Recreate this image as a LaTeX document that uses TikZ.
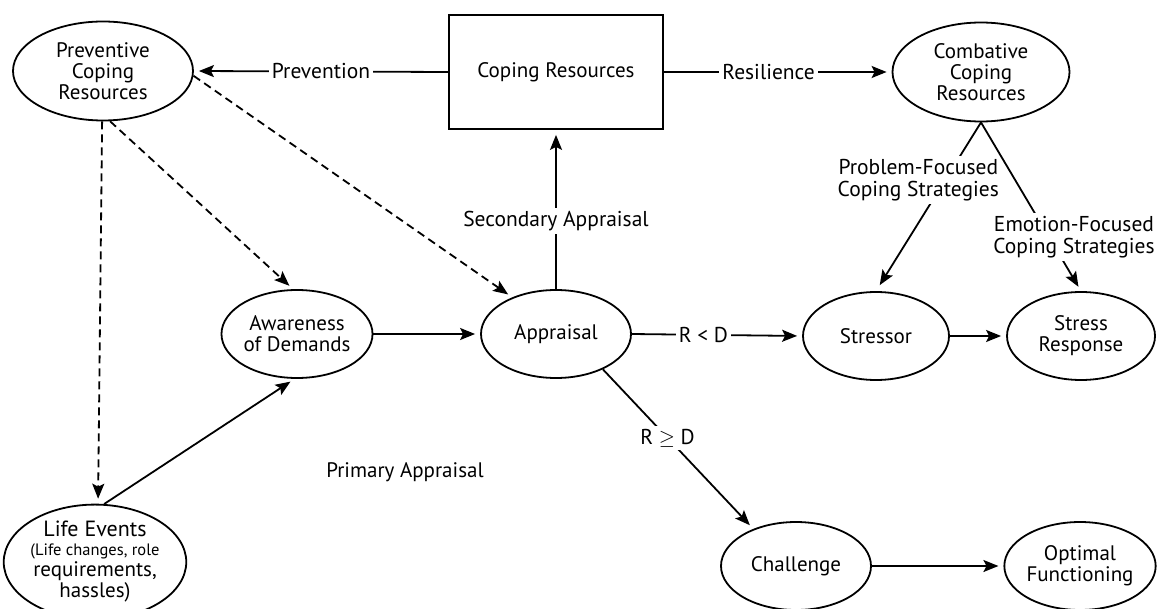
\documentclass[tikz,border=0pt]{standalone}
\usepackage{fontspec}
\setmainfont{PT Sans}
\usetikzlibrary{shapes.geometric,arrows.meta}
\begin{document}
\begin{tikzpicture}[x=1pt,y=-1pt,
  every node/.style={font=\fontsize{21}{21}\selectfont},
  ell/.style={draw, ellipse, line width=1.8pt, minimum width=150pt, minimum height=88pt, inner sep=0pt, align=center},
  bigell/.style={ell, minimum width=180pt, minimum height=99pt},
  lbl/.style={fill=white, inner sep=3pt, align=center, font=\fontsize{21.5}{22}\selectfont},
  arr/.style={line width=1.8pt, -{Stealth[length=15pt,width=12pt,inset=3pt]}, shorten >=5pt},
  dsh/.style={arr, dash pattern=on 8pt off 5pt},
]
\useasboundingbox (0,0) rectangle (1158,609);

\node[bigell] (prev) at (103,71) {Preventive\\Coping\\Resources};
\node[draw, line width=1.8pt, minimum width=214pt, minimum height=114pt, inner sep=0pt] (box) at (556,72) {Coping Resources};
\node[bigell, minimum width=177pt] (comb) at (981,72) {Combative\\Coping\\Resources};
\node[ell] (aw) at (297,334) {Awareness\\of Demands};
\node[ell] (appr) at (556,334) {Appraisal};
\node[ell, minimum width=146pt] (str) at (876,336) {Stressor};
\node[ell, minimum width=148pt] (sr) at (1081,336) {Stress\\Response};
\node[ell] (chal) at (796,566) {Challenge};
\node[ell] (opt) at (1080,566) {Optimal\\Functioning};
\node[bigell] (life) at (95,562) {\fontsize{22}{21}\selectfont Life Events\\[-2pt]\fontsize{16.5}{17}\selectfont (Life changes, role\\requirements,\\hassles)};
\node (primary) at (405,472) {Primary Appraisal};

\draw[arr] (box.west) -- node[lbl]{Prevention} (prev.east);
\draw[arr] (box.east) -- node[lbl,pos=0.46]{Resilience} (comb.west);
\draw[arr] (appr.north) -- node[lbl,pos=0.43]{Secondary Appraisal} (box.south);
\draw[arr] (aw.east) -- (appr.west);
\draw[arr] (appr.east) -- node[lbl,pos=0.42]{R < D} (str.west);
\draw[arr] (str.east) -- (sr.west);
\draw[arr] (appr.-37) -- node[lbl,pos=0.43]{R $\geq$ D} (chal.139);
\draw[arr] (chal.east) -- (opt.west);
\draw[arr, shorten >=7pt] (comb.south) -- node[lbl,pos=0.34,xshift=-27pt]{Problem-Focused\\Coping Strategies} (str.north);
\draw[arr] (comb.south) -- node[lbl,pos=0.68,xshift=25pt]{Emotion-Focused\\Coping Strategies} (sr.north);
\draw[arr] (life.81) -- (aw.-93);
\draw[dsh] (prev.-91) -- (life.87);
\draw[dsh] (prev.-82) -- (aw.95);
\draw[dsh] (prev.-3) -- (appr.140);
\end{tikzpicture}
\end{document}
